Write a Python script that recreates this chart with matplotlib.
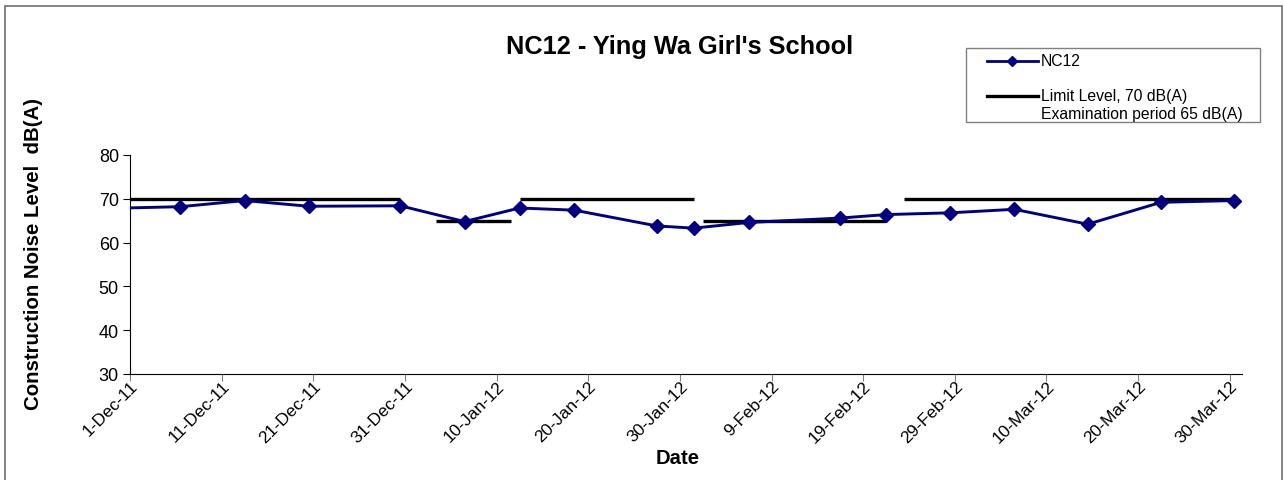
import pandas as pd
import matplotlib
matplotlib.use('Agg')
import matplotlib.pyplot as plt
import matplotlib.dates as mdates
from matplotlib.patches import Rectangle
from matplotlib.lines import Line2D

plt.rcParams['font.family'] = ['Liberation Sans', 'DejaVu Sans']

# measured levels (first one lies just before the axis start and is clipped)
dates = ['2011-11-28 12:00', '2011-12-06 12:00', '2011-12-13 12:00', '2011-12-20 12:00',
         '2011-12-30 12:00', '2012-01-06 12:00', '2012-01-12 12:00', '2012-01-18 12:00',
         '2012-01-27 12:00', '2012-01-31 12:00', '2012-02-06 12:00', '2012-02-16 12:00',
         '2012-02-21 12:00', '2012-02-28 12:00', '2012-03-06 12:00', '2012-03-14 12:00',
         '2012-03-22 12:00', '2012-03-30 12:00']
nc12 = [67.8, 68.2, 69.6, 68.3, 68.4, 64.8, 67.9, 67.4, 63.8, 63.3, 64.6, 65.6,
        66.4, 66.8, 67.6, 64.2, 69.2, 69.6]

# limit level segments
limit_start = ['2011-11-28 12:00', '2012-01-03 10:00', '2012-01-12 12:00', '2012-02-01 12:00', '2012-02-23 12:00']
limit_end = ['2011-12-30 12:00', '2012-01-11 14:00', '2012-01-31 12:00', '2012-02-21 12:00', '2012-03-30 12:00']
limit_level = [70, 65, 70, 65, 70]

tick_dates = pd.date_range('2011-12-01', '2012-03-30', freq='10D')

fig = plt.figure(figsize=(12.84, 4.81), dpi=100)
ax = fig.add_axes([130 / 1284, 1 - 375 / 481, (1242 - 130) / 1284, (375 - 156) / 481])

# outer chart border
fig.patches.append(Rectangle((5 / 1284, -0.1), (1282 - 5) / 1284, 1.1 - 7 / 481,
                             transform=fig.transFigure, fill=False, ec='#707070', lw=1.2))

x = pd.to_datetime(dates)
for s, e, lv in zip(limit_start, limit_end, limit_level):
    ax.plot(pd.to_datetime([s, e]), [lv, lv], color='black', lw=2.4, solid_capstyle='butt')
ax.plot(x, nc12, color='#000080', lw=2.1, marker='D', markersize=7.4, zorder=3)

ax.set_xlim(pd.Timestamp('2011-12-01'), pd.Timestamp('2012-03-31 08:00'))
ax.set_ylim(30, 80)
ax.set_yticks(range(30, 81, 10))
ax.set_xticks(tick_dates)
ax.xaxis.set_major_formatter(plt.FuncFormatter(
    lambda v, p: '%d-%s' % (mdates.num2date(v).day, mdates.num2date(v).strftime('%b-%y'))))
for lab in ax.get_xticklabels():
    lab.set_rotation(45)
    lab.set_ha('right')
    lab.set_va('top')
    lab.set_rotation_mode('anchor')
ax.tick_params(axis='x', labelsize=12.5, length=5, color='#808080', pad=-2)
ax.tick_params(axis='y', labelsize=13, length=5, pad=3)
ax.spines['top'].set_visible(False)
ax.spines['right'].set_visible(False)

ax.set_xlabel('Date', fontsize=14.6, fontweight='bold')
ax.xaxis.label.set_va('center')
ax.xaxis.set_label_coords((678 - 130) / (1242 - 130), -(459 - 375) / (375 - 156))
ax.set_ylabel('Construction Noise Level  dB(A)', fontsize=14.7, fontweight='bold')
ax.yaxis.label.set_va('center')
ax.yaxis.set_label_coords(-(130 - 34) / (1242 - 130), (375 - 253.5) / (375 - 156))

fig.text(680 / 1284, 1 - 47 / 481, "NC12 - Ying Wa Girl's School", fontsize=18.3,
         fontweight='bold', ha='center', va='center')

# legend drawn as in the spreadsheet
fig.patches.append(Rectangle((966 / 1284, 1 - 123 / 481), (1260 - 966) / 1284, (123 - 49) / 481,
                             transform=fig.transFigure, fill=False, ec='#808080', lw=1))
fig.lines.append(Line2D([987 / 1284, 1038 / 1284], [1 - 62 / 481] * 2, transform=fig.transFigure,
                        color='#000080', lw=2.0))
fig.lines.append(Line2D([1012 / 1284], [1 - 62 / 481], transform=fig.transFigure,
                        color='#000080', marker='D', markersize=4.8))
fig.lines.append(Line2D([987 / 1284, 1038 / 1284], [1 - 97 / 481] * 2, transform=fig.transFigure,
                        color='black', lw=2.4))
fig.text(1041 / 1284, 1 - 62 / 481, 'NC12', fontsize=11.3, va='center')
fig.text(1041 / 1284, 1 - 97 / 481, 'Limit Level, 70 dB(A)', fontsize=11.3, va='center')
fig.text(1041 / 1284, 1 - 114 / 481, 'Examination period 65 dB(A)', fontsize=11.3, va='center')

fig.savefig('out.png', dpi=100)
